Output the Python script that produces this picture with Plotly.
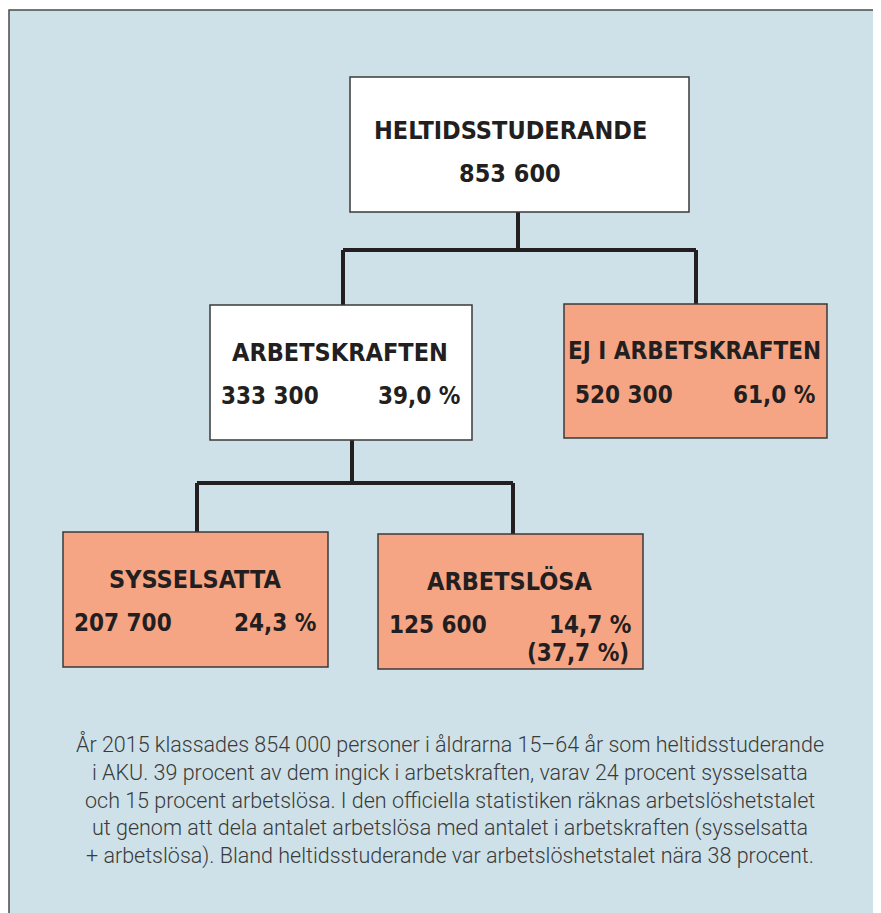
import plotly.graph_objects as go

# Data
labels = ['HELTIDSSTUDERANDE', 'ARBETSKRAFTEN', 'EJ I ARBETSKRAFTEN', 'SYSSELSATTA', 'ARBETSLÖSA']
counts = ['853 600', '333 300', '520 300', '207 700', '125 600']
shares = ['', '39,0 %', '61,0 %', '24,3 %', '14,7 %']
extra = ['', '', '', '', '(37,7 %)']
highlight = [False, False, True, True, True]
caption = ['År 2015 klassades 854 000 personer i åldrarna 15–64 år som heltidsstuderande',
           'i AKU. 39 procent av dem ingick i arbetskraften, varav 24 procent sysselsatta',
           'och 15 procent arbetslösa. I den officiella statistiken räknas arbetslöshetstalet',
           'ut genom att dela antalet arbetslösa med antalet i arbetskraften (sysselsatta',
           '+ arbetslösa). Bland heltidsstuderande var arbetslöshetstalet nära 38 procent.']

# Layout of the boxes (x0, y0, x1, y1) in page pixels
BOXES = [(350, 77, 689, 212), (210, 305, 472, 440), (564, 304, 827, 438),
         (63, 532, 328, 667), (378, 534, 643, 669)]

BG = '#CEE1E8'
SALMON = '#F6A584'
INK = '#231F20'
BOLD_FONT = 'DejaVu Sans Condensed, Roboto Condensed, Liberation Sans Narrow, sans-serif'
TEXT_FONT = 'Roboto, DejaVu Sans Condensed, sans-serif'

fig = go.Figure()
shapes = []
ann = []

# outer frame
shapes.append(dict(type='rect', x0=9, y0=10, x1=900, y1=930, fillcolor=BG,
                   line=dict(color='#4a4a4a', width=1.5), layer='below'))

# connectors
conn = [
    [(518, 212), (518, 250)], [(343, 250), (696, 250)],
    [(343, 250), (343, 305)], [(696, 250), (696, 304)],
    [(352, 440), (352, 483)], [(197, 483), (513, 483)],
    [(197, 483), (197, 532)], [(513, 483), (513, 534)],
]
for (a, b) in conn:
    shapes.append(dict(type='line', x0=a[0], y0=a[1], x1=b[0], y1=b[1],
                       line=dict(color=INK, width=4)))

for i, (x0, y0, x1, y1) in enumerate(BOXES):
    shapes.append(dict(type='rect', x0=x0, y0=y0, x1=x1, y1=y1,
                       fillcolor=SALMON if highlight[i] else 'white',
                       line=dict(color='#3a3a3a', width=1.5)))
    cx = (x0 + x1) / 2
    tf = dict(family=BOLD_FONT, size=25, color=INK, weight='bold')
    if i == 0:
        ann.append(dict(x=cx - 9, y=y0 + 53, text=labels[i], font=tf))
        ann.append(dict(x=cx - 10, y=y0 + 96, text=counts[i], font=tf))
        continue
    if i == 2:
        tf = dict(tf, size=24)
    ann.append(dict(x=cx - 1, y=y0 + 47, text=labels[i], font=tf))
    nf = dict(family=BOLD_FONT, size=24, color=INK, weight='bold')
    ann.append(dict(x=x0 + 9, y=y0 + 91, text=counts[i], font=nf, xanchor='left'))
    ann.append(dict(x=x1 - 10, y=y0 + 91, text=shares[i], font=nf, xanchor='right'))
    if extra[i]:
        ann.append(dict(x=x1 - 12, y=y0 + 119, text=extra[i], font=nf, xanchor='right'))

for k, line in enumerate(caption):
    ann.append(dict(x=450, y=744 + 28 * k, text=line,
                    font=dict(family=TEXT_FONT, size=21.5, color='#3a3a3a', weight=300)))

for a in ann:
    a.setdefault('xanchor', 'center')
    a.update(xref='x', yref='y', showarrow=False, yanchor='middle')

# page has an 8px body margin, so the plot area starts at page pixel 8
fig.update_layout(
    width=873, height=905,
    margin=dict(l=0, r=0, t=0, b=0),
    paper_bgcolor='white', plot_bgcolor='white',
    xaxis=dict(range=[8, 881], visible=False, fixedrange=True),
    yaxis=dict(range=[913, 8], visible=False, fixedrange=True),
    shapes=shapes, annotations=ann, showlegend=False,
)

fig.write_html('out.html')
